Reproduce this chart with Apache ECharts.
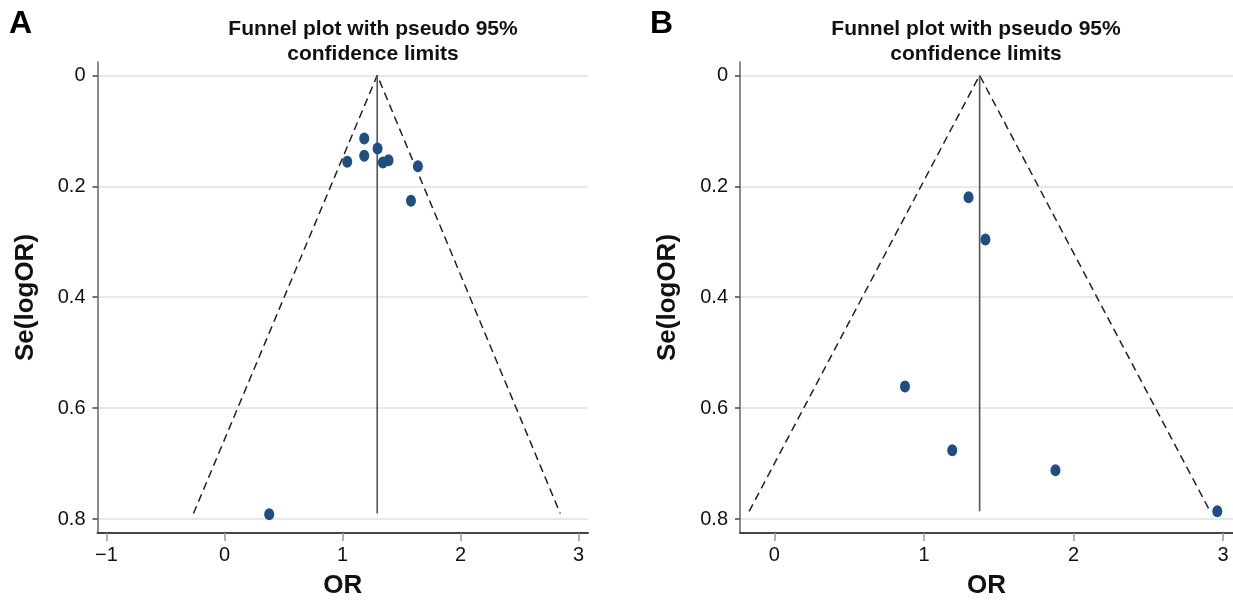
<!DOCTYPE html>
<html>
<head>
<meta charset="utf-8">
<script src="https://cdn.jsdelivr.net/npm/echarts@6/dist/echarts.min.js"></script>
<style>
html,body{margin:0;padding:0;background:#fff;}
#chart{width:1233px;height:601px;}
</style>
</head>
<body>
<div id="chart"></div>
<script>
// ---- Data ----
var titleText = 'Funnel plot with pseudo 95%\nconfidence limits';
var panelLetters = ['A', 'B'];
var yTicks = [0, 0.2, 0.4, 0.6, 0.8];
var xTicksA = [-1, 0, 1, 2, 3];
var xTicksB = [0, 1, 2, 3];

// Panel A studies
var orA = [1.040, 1.184, 1.184, 1.297, 1.342, 1.390, 1.639, 1.580, 0.379];
var seA = [0.156, 0.114, 0.145, 0.132, 0.157, 0.153, 0.164, 0.226, 0.791];
var pooledA = 1.294;
var seMaxA = 0.790;
var limitsA = [-0.263, 2.845];

// Panel B studies
var orB = [1.298, 1.411, 0.873, 1.189, 1.879, 2.961];
var seB = [0.220, 0.296, 0.561, 0.676, 0.712, 0.786];
var pooledB = 1.372;
var seMaxB = 0.786;
var limitsB = [-0.169, 2.913];

// ---- Chart ----
var FONT = '"Liberation Sans", Arial, sans-serif';
var chart = echarts.init(document.getElementById('chart'), null, {renderer: 'canvas'});

function pts(xs, ys) { return xs.map(function (x, i) { return [x, ys[i]]; }); }
function fmtTick(v) { return String(v).replace('-', '\u2212'); }

function xAxisDef(gi, min, max, ticks) {
  return {
    type: 'value', gridIndex: gi, min: min, max: max,
    name: 'OR', nameLocation: 'middle', nameGap: 40,
    nameTextStyle: {fontFamily: FONT, fontSize: 26, fontWeight: 'bold', color: '#111'},
    axisLine: {show: true, onZero: false, lineStyle: {color: '#444', width: 2}},
    axisTick: {show: true, length: 8, customValues: ticks, lineStyle: {color: '#999', width: 1.5}},
    axisLabel: {show: true, customValues: ticks, margin: 12, fontFamily: FONT, fontSize: 20, color: '#111',
      formatter: fmtTick},
    splitLine: {show: false}
  };
}
function yAxisDef(gi) {
  return {
    type: 'value', gridIndex: gi, min: -0.024, max: 0.825, inverse: true,
    name: 'Se(logOR)', nameLocation: 'middle', nameGap: 59,
    nameTextStyle: {fontFamily: FONT, fontSize: 26, fontWeight: 'bold', color: '#111'},
    axisLine: {show: true, onZero: false, lineStyle: {color: '#666', width: 1.5}},
    axisTick: {show: true, length: 5, customValues: yTicks, lineStyle: {color: '#444', width: 1.5}},
    axisLabel: {show: true, customValues: yTicks, margin: 12, fontFamily: FONT, fontSize: 20, color: '#111'},
    splitLine: {show: true, lineStyle: {color: '#e8e8e8', width: 2}}
  };
}
function panelSeries(idx, xs, ys, pooled, seMax, limits) {
  return [
    {
      type: 'line', xAxisIndex: idx, yAxisIndex: idx, symbol: 'none', silent: true,
      data: [[limits[0], seMax], [pooled, 0], [limits[1], seMax]],
      lineStyle: {color: '#222', width: 1.5, type: [8, 5]}, z: 2
    },
    {
      type: 'line', xAxisIndex: idx, yAxisIndex: idx, symbol: 'none', silent: true,
      data: [[pooled, 0], [pooled, seMax]],
      lineStyle: {color: '#555', width: 1.6, type: 'solid'}, z: 2
    },
    {
      type: 'scatter', xAxisIndex: idx, yAxisIndex: idx,
      data: pts(xs, ys), symbol: 'circle', symbolSize: [10, 12],
      itemStyle: {color: '#1e4f80', opacity: 1}, z: 3
    }
  ];
}

var option = {
  animation: false,
  backgroundColor: '#fff',
  title: [
    {text: panelLetters[0], left: 9, top: 8, padding: 0,
      textStyle: {fontFamily: FONT, fontSize: 32, fontWeight: 'bold', color: '#000'}},
    {text: panelLetters[1], left: 650, top: 8, padding: 0,
      textStyle: {fontFamily: FONT, fontSize: 32, fontWeight: 'bold', color: '#000'}},
    {text: titleText, left: 373, top: 17, padding: 0, textAlign: 'center',
      textStyle: {fontFamily: FONT, fontSize: 21, fontWeight: 'bold', color: '#111', lineHeight: 25, align: 'center'}},
    {text: titleText, left: 976, top: 17, padding: 0, textAlign: 'center',
      textStyle: {fontFamily: FONT, fontSize: 21, fontWeight: 'bold', color: '#111', lineHeight: 25, align: 'center'}}
  ],
  grid: [
    {left: 97.5, right: 645, top: 62, bottom: 68, containLabel: false, outerBoundsMode: 'none'},
    {left: 740, right: 0, top: 62, bottom: 68, containLabel: false, outerBoundsMode: 'none'}
  ],
  xAxis: [xAxisDef(0, -1.076, 3.08, xTicksA), xAxisDef(1, -0.23, 3.066, xTicksB)],
  yAxis: [yAxisDef(0), yAxisDef(1)],
  series: panelSeries(0, orA, seA, pooledA, seMaxA, limitsA)
    .concat(panelSeries(1, orB, seB, pooledB, seMaxB, limitsB))
};
chart.setOption(option);
</script>
</body>
</html>
